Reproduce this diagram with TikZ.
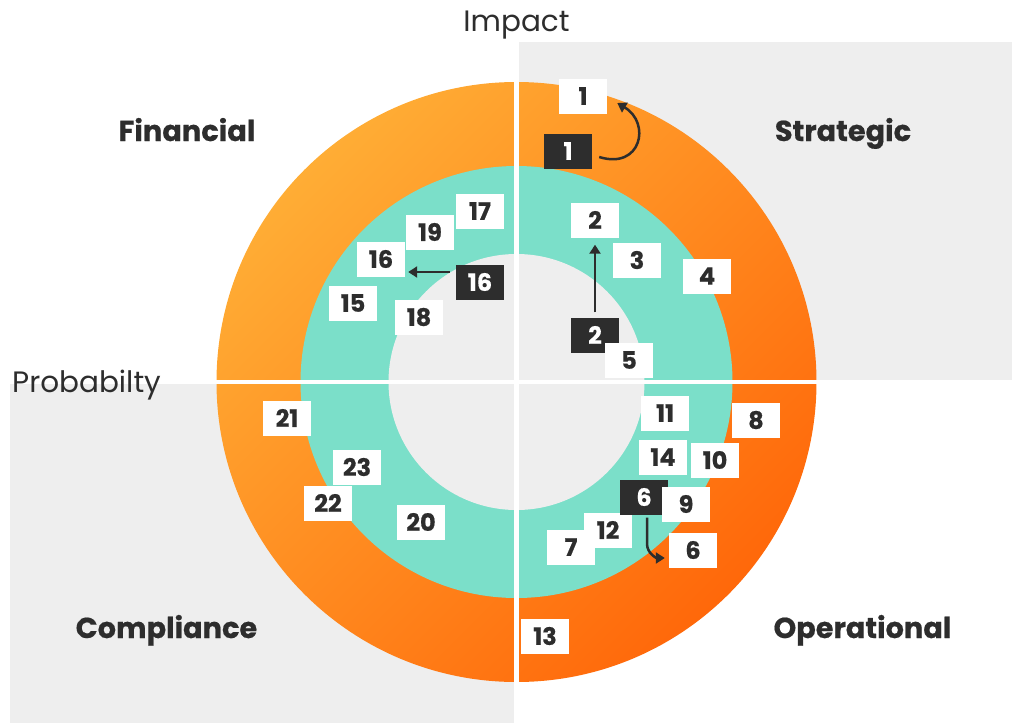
\documentclass[tikz,border=0pt]{standalone}
\usepackage{fontspec}
\setmainfont{Poppins}
\newfontfamily\heavy{Poppins}[UprightFeatures={FakeBold=0.6}, BoldFeatures={FakeBold=0.6}]
\usetikzlibrary{calc,arrows.meta}
\definecolor{bgray}{HTML}{EEEEEE}
\definecolor{teal}{HTML}{7BDFC9}
\definecolor{orL}{HTML}{FFAD35}
\definecolor{orD}{HTML}{FF680A}
\definecolor{ink}{HTML}{2D2D2D}
\tikzset{
  wbox/.style={fill=white, text=ink, minimum width=48pt, minimum height=35pt, inner sep=0pt,
    font=\heavy\fontsize{24}{24}\selectfont\bfseries},
  dbox/.style={wbox, fill=ink, text=white},
  quad/.style={text=ink, anchor=base, font=\heavy\fontsize{28.8}{28.8}\selectfont\bfseries},
  axis/.style={text=ink, anchor=base, font=\fontsize{29.5}{29.5}\selectfont},
  conn/.style={draw=ink, line width=2.5pt, -{Triangle[length=9pt,width=11pt]}},
  sep/.style={draw=white, line width=4.2pt}
}
\begin{document}
\begin{tikzpicture}[x=1pt,y=-1pt]
\useasboundingbox (0,0) rectangle (1012,723);
% background quadrants
\fill[bgray] (518.7,42) rectangle (1012,380);
\fill[bgray] (10,384) rectangle (514.3,723);
% rings
\shade[top color=orL, bottom color=orD, shading angle=45] (516.5,382) circle (300);
\fill[teal] (516.5,382) circle (216);
\fill[bgray] (516.5,382) circle (128);
% separators
\draw[sep] (516.5,78) -- (516.5,686);
\draw[sep] (212,382) -- (821,382);
% axis labels
\node[axis] (impact) at (516.5,31) {Impact};
\node[axis, anchor=base west, inner sep=0pt] (prob) at (12,392) {Probabilty};
% quadrant labels
\node[quad] (fin) at (187,141) {Financial};
\node[quad] (str) at (843,141) {Strategic};
\node[quad] (com) at (166.5,638) {Compliance};
\node[quad] (ope) at (862.5,638) {Operational};
% strategic
\node[wbox] (w1) at (583,96) {1};
\node[dbox] (d1) at (568,151) {1};
\node[wbox] (w2) at (595,220) {2};
\node[wbox] (w3) at (637,260) {3};
\node[wbox] (w4) at (707,276) {4};
\node[dbox] (d2) at (595,335) {2};
\node[wbox] (w5) at (629,360) {5};
% financial
\node[wbox] (w17) at (480,211) {17};
\node[wbox] (w19) at (430,232) {19};
\node[wbox] (w16) at (381,259) {16};
\node[dbox] (d16) at (480,282) {16};
\node[wbox] (w15) at (353,303) {15};
\node[wbox] (w18) at (419,317) {18};
% operational
\node[wbox] (w11) at (665,413) {11};
\node[wbox] (w8) at (756,420) {8};
\node[wbox] (w14) at (663,457) {14};
\node[wbox] (w10) at (715,460) {10};
\node[wbox] (w7) at (571,547) {7};
\node[wbox] (w12) at (608,530) {12};
\node[dbox] (d6) at (644,497) {6};
\node[wbox] (w9) at (686,504) {9};
\node[wbox] (w6) at (693,550) {6};
\node[wbox] (w13) at (545,636) {13};
% compliance
\node[wbox] (w21) at (287,418) {21};
\node[wbox] (w23) at (357,467) {23};
\node[wbox] (w22) at (328,503) {22};
\node[wbox] (w20) at (421,522) {20};
% connectors
\draw[conn] ($(d1.east)+(7,6)$) .. controls +(42,13) and +(34,20) .. ($(w1.east)+(10,7)$);
\draw[conn] ($(d2.north)+(0,-5)$) -- ($(w2.south)+(0,7)$);
\draw[conn] ($(d16.west)+(-6,-10)$) -- ($(w16.east)+(3,13)$);
\draw[conn] ($(d6.south)+(3,3)$) -- ++(0,26) .. controls +(0,10) and +(-8,0) .. ($(w6.west)+(-4,8)$);
\end{tikzpicture}
\end{document}
